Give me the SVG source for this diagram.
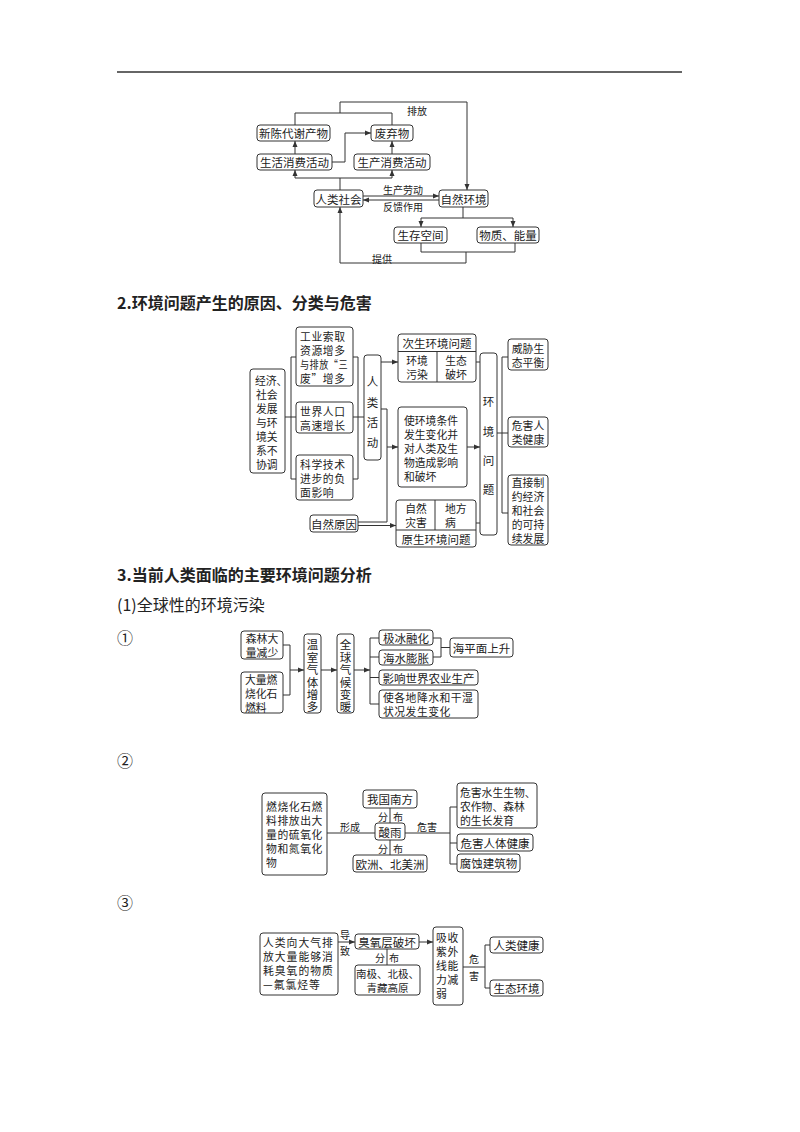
<svg xmlns="http://www.w3.org/2000/svg" width="800" height="1132" viewBox="0 0 800 1132">
<style>
.bx{fill:#fff;stroke:#333;stroke-width:1}
.ln{fill:none;stroke:#333;stroke-width:1}
.ar{marker-end:url(#ah)}
text{font-family:"Noto Sans CJK SC","Noto Sans",sans-serif;fill:#222;dominant-baseline:central}
.t{font-size:11.5px;text-anchor:middle}
.s{font-size:11.5px;text-anchor:start}
.m{font-size:10.8px}
.v{font-size:11.5px;text-anchor:start;writing-mode:vertical-rl}
.l{font-size:10px;text-anchor:middle}
.h{font-size:16px;font-weight:bold;dominant-baseline:auto}
.p{font-size:16px;dominant-baseline:auto}
</style>
<defs>
<marker id="ah" markerUnits="userSpaceOnUse" markerWidth="6" markerHeight="6" refX="6" refY="3" orient="auto">
<path d="M0,0.5 L6,3 L0,5.5 z" fill="#333"/>
</marker>
</defs>
<rect width="800" height="1132" fill="#fff"/>
<path d="M117,72 H682" stroke="#333" stroke-width="1.6"/>

<!-- Section 1 diagram -->
<g id="connectors1">
<path class="ln" d="M295,125 V113 H392 V125"/>
<path class="ln ar" d="M340,113 V102 H467 V190"/>
<path class="ln ar" d="M295,154 V141"/>
<path class="ln ar" d="M332,162 H345 V133 H371"/>
<path class="ln ar" d="M392,154 V141"/>
<path class="ln" d="M340,190 V178 M295,178 H392"/>
<path class="ln ar" d="M295,178 V170"/>
<path class="ln ar" d="M392,178 V170"/>
<path class="ln ar" d="M363,196 H439"/>
<path class="ln ar" d="M439,200 H363"/>
<path class="ln" d="M463,207 V218 M421,218 H513"/>
<path class="ln ar" d="M421,218 V227"/>
<path class="ln ar" d="M513,218 V227"/>
<path class="ln" d="M421,243 V252 H515 V243"/>
<path class="ln ar" d="M466,252 V263 H340 V207"/>
<text class="l" x="417" y="110">排放</text>
<text class="l" x="403" y="189">生产劳动</text>
<text class="l" x="403" y="206.5">反馈作用</text>
<text class="l" x="382" y="258">提供</text>
</g>
<g id="n1"><rect class="bx" x="257" y="125" width="73" height="16" rx="3"/><text class="t" x="293.5" y="133">新陈代谢产物</text></g>
<g id="n2"><rect class="bx" x="371" y="125" width="42" height="16" rx="3"/><text class="t" x="392" y="133">废弃物</text></g>
<g id="n3"><rect class="bx" x="257" y="154" width="75" height="16" rx="3"/><text class="t" x="294.5" y="162">生活消费活动</text></g>
<g id="n4"><rect class="bx" x="354" y="154" width="76" height="16" rx="3"/><text class="t" x="392" y="162">生产消费活动</text></g>
<g id="n5"><rect class="bx" x="314" y="190" width="49" height="17" rx="3"/><text class="t" x="338.5" y="198.5">人类社会</text></g>
<g id="n6"><rect class="bx" x="439" y="190" width="49" height="17" rx="3"/><text class="t" x="463.5" y="198.5">自然环境</text></g>
<g id="n7"><rect class="bx" x="394" y="227" width="53" height="16" rx="3"/><text class="t" x="420.5" y="235">生存空间</text></g>
<g id="n8"><rect class="bx" x="477" y="227" width="62" height="16" rx="3"/><text class="t" x="508" y="235">物质、能量</text></g>

<text class="h" x="117" y="309">2.环境问题产生的原因、分类与危害</text>

<!-- Section 2 diagram -->
<g id="connectors2">
<path class="ln" d="M285,417 H296 M291,357 V479 M291,357 H296 M291,479 H296"/>
<path class="ln" d="M353,357 H358 M353,479 H358 M358,357 V479 M353,417 H364"/>
<path class="ln ar" d="M381,362 H398"/>
<path class="ln" d="M381,409 H387 V522"/>
<path class="ln ar" d="M387,447 H398"/>
<path class="ln" d="M358,522 H387"/>
<path class="ln ar" d="M358,525.5 H396"/>
<path class="ln" d="M476,362 H480"/>
<path class="ln ar" d="M467,447 H480"/>
<path class="ln" d="M476,523 H480"/>
<path class="ln" d="M497,433 H502 M502,357 V513 M502,357 H508 M502,433 H508 M502,513 H508"/>
</g>
<g id="a1"><rect class="bx" x="250" y="369" width="35" height="104" rx="3"/>
<text class="s m"><tspan x="255" y="379.5">经济、</tspan><tspan x="256" y="393.5">社会</tspan><tspan x="256" y="407.5">发展</tspan><tspan x="256" y="421.5">与环</tspan><tspan x="256" y="435.5">境关</tspan><tspan x="256" y="449.5">系不</tspan><tspan x="256" y="463.5">协调</tspan></text></g>
<g id="a2"><rect class="bx" x="296" y="327" width="57" height="59" rx="3"/>
<text class="s m" style="letter-spacing:0.6px"><tspan x="300" y="335.5">工业索取</tspan><tspan x="300" y="349.5">资源增多</tspan><tspan x="300" y="363.5" textLength="48" lengthAdjust="spacingAndGlyphs">与排放“三</tspan><tspan x="300" y="377.5">废”增多</tspan></text></g>
<g id="a3"><rect class="bx" x="296" y="402" width="57" height="31" rx="3"/>
<text class="s m" style="letter-spacing:0.6px"><tspan x="300" y="410.5">世界人口</tspan><tspan x="300" y="424.5">高速增长</tspan></text></g>
<g id="a4"><rect class="bx" x="296" y="455" width="57" height="45" rx="3"/>
<text class="s m" style="letter-spacing:0.6px"><tspan x="300" y="464">科学技术</tspan><tspan x="300" y="478">进步的负</tspan><tspan x="300" y="492">面影响</tspan></text></g>
<g id="a5"><rect class="bx" x="364" y="355" width="17" height="105" rx="3"/>
<text class="v" x="372.5" y="376.25" style="letter-spacing:8.8px">人类活动</text></g>
<g id="a6"><rect class="bx" x="310" y="515" width="48" height="17" rx="3"/><text class="t" x="334" y="523.5">自然原因</text></g>
<g id="a7"><rect class="bx" x="398" y="334" width="78" height="48" rx="3"/>
<path class="ln" d="M398,351.5 H476 M437,351.5 V382"/>
<text class="t" x="437" y="343">次生环境问题</text>
<text class="t m"><tspan x="417" y="360">环境</tspan><tspan x="417" y="374">污染</tspan></text>
<text class="t m"><tspan x="456" y="360">生态</tspan><tspan x="456" y="374">破坏</tspan></text></g>
<g id="a8"><rect class="bx" x="398" y="407" width="69" height="80" rx="3"/>
<text class="s m"><tspan x="404" y="420">使环境条件</tspan><tspan x="404" y="434">发生变化并</tspan><tspan x="404" y="448">对人类及生</tspan><tspan x="404" y="462">物造成影响</tspan><tspan x="404" y="476">和破坏</tspan></text></g>
<g id="a9"><rect class="bx" x="396" y="500" width="80" height="47" rx="3"/>
<path class="ln" d="M396,530 H476 M435,500 V530"/>
<text class="t m"><tspan x="416" y="508">自然</tspan><tspan x="416" y="522">灾害</tspan></text>
<text class="s m"><tspan x="445" y="508">地方</tspan><tspan x="445" y="522">病</tspan></text>
<text class="t" x="436" y="539">原生环境问题</text></g>
<g id="a10"><rect class="bx" x="480" y="353" width="17" height="182" rx="3"/>
<text class="v" x="488.5" y="396.25" style="letter-spacing:17.8px">环境问题</text></g>
<g id="a11"><rect class="bx" x="508" y="339" width="40" height="31" rx="3"/>
<text class="t m"><tspan x="528" y="348">威胁生</tspan><tspan x="528" y="362">态平衡</tspan></text></g>
<g id="a12"><rect class="bx" x="508" y="417" width="40" height="30" rx="3"/>
<text class="t m"><tspan x="528" y="425">危害人</tspan><tspan x="528" y="439">类健康</tspan></text></g>
<g id="a13"><rect class="bx" x="508" y="475" width="40" height="70" rx="3"/>
<text class="t m"><tspan x="528" y="482">直接制</tspan><tspan x="528" y="496">约经济</tspan><tspan x="528" y="510">和社会</tspan><tspan x="528" y="524">的可持</tspan><tspan x="528" y="538">续发展</tspan></text></g>

<text class="h" x="117" y="581">3.当前人类面临的主要环境问题分析</text>
<text class="p" x="117" y="611">(1)全球性的环境污染</text>
<text class="p" x="117" y="644">①</text>

<!-- Section 3 ① -->
<g id="connectors3">
<path class="ln" d="M283,645 H290 M283,695 H290 M290,645 V695"/>
<path class="ln ar" d="M290,670 H304"/>
<path class="ln ar" d="M321,670 H337"/>
<path class="ln ar" d="M354,670 H370"/>
<path class="ln" d="M370,638 V704 M370,638 H379 M370,657 H379 M370,677.5 H379 M370,704 H379"/>
<path class="ln" d="M433,638 H441 M433,657 H441 M441,638 V657 M441,647.5 H450"/>
</g>
<g id="b1"><rect class="bx" x="241" y="631" width="42" height="28" rx="3"/>
<text class="t m"><tspan x="262" y="638">森林大</tspan><tspan x="262" y="652">量减少</tspan></text></g>
<g id="b2"><rect class="bx" x="241" y="672" width="42" height="41" rx="3"/>
<text class="s m"><tspan x="245" y="679">大量燃</tspan><tspan x="245" y="693">烧化石</tspan><tspan x="245" y="707">燃料</tspan></text></g>
<g id="b3"><rect class="bx" x="304" y="634" width="17" height="79" rx="3"/>
<text class="v" x="312.5" y="639.25" style="letter-spacing:0.9px">温室气体增多</text></g>
<g id="b4"><rect class="bx" x="337" y="634" width="17" height="79" rx="3"/>
<text class="v" x="345.5" y="639.25" style="letter-spacing:0.9px">全球气候变暖</text></g>
<g id="b5"><rect class="bx" x="379" y="630" width="54" height="15" rx="3"/><text class="t" x="406" y="637.5">极冰融化</text></g>
<g id="b6"><rect class="bx" x="379" y="650" width="54" height="15" rx="3"/><text class="t" x="406" y="657.5">海水膨胀</text></g>
<g id="b7"><rect class="bx" x="379" y="670" width="99" height="15" rx="3"/><text class="t" x="428.5" y="677.5">影响世界农业生产</text></g>
<g id="b8"><rect class="bx" x="379" y="690" width="99" height="28" rx="3"/>
<text class="s m" style="letter-spacing:0.5px"><tspan x="383" y="697">使各地降水和干湿</tspan><tspan x="383" y="711">状况发生变化</tspan></text></g>
<g id="b9"><rect class="bx" x="450" y="638" width="63" height="19" rx="3"/><text class="t" x="481.5" y="647.5">海平面上升</text></g>

<text class="p" x="117" y="767">②</text>

<!-- Section 3 ② -->
<g id="connectors4">
<path class="ln" d="M327,833 H375 M390,808 V823 M390,840 V855 M405,833 H450 M450,807 V864 M450,807 H457 M450,843 H457 M450,864 H457"/>
<text class="l" x="350" y="826">形成</text>
<text class="l" x="427" y="826">危害</text>
<text class="l" x="383" y="816">分</text><text class="l" x="398" y="816">布</text>
<text class="l" x="383" y="848">分</text><text class="l" x="398" y="848">布</text>
</g>
<g id="c1"><rect class="bx" x="262" y="793" width="65" height="82" rx="3"/>
<text class="s m" style="letter-spacing:0.6px"><tspan x="266" y="806">燃烧化石燃</tspan><tspan x="266" y="820">料排放出大</tspan><tspan x="266" y="834">量的硫氧化</tspan><tspan x="266" y="848">物和氮氧化</tspan><tspan x="266" y="862">物</tspan></text></g>
<g id="c2"><rect class="bx" x="363" y="790" width="54" height="18" rx="3"/><text class="t" x="390" y="799">我国南方</text></g>
<g id="c3"><rect class="bx" x="375" y="823" width="30" height="17" rx="3"/><text class="t" x="390" y="831.5">酸雨</text></g>
<g id="c4"><rect class="bx" x="353" y="855" width="74" height="17" rx="3"/><text class="t" x="390" y="863.5">欧洲、北美洲</text></g>
<g id="c5"><rect class="bx" x="457" y="783" width="80" height="45" rx="3"/>
<text class="s m"><tspan x="460" y="791.5">危害水生生物、</tspan><tspan x="460" y="805.5">农作物、森林</tspan><tspan x="460" y="819.5">的生长发育</tspan></text></g>
<g id="c6"><rect class="bx" x="457" y="834" width="76" height="17" rx="3"/><text class="t" x="495" y="842.5">危害人体健康</text></g>
<g id="c7"><rect class="bx" x="457" y="854" width="63" height="18" rx="3"/><text class="t" x="488.5" y="863">腐蚀建筑物</text></g>

<text class="p" x="117" y="909">③</text>

<!-- Section 3 ③ -->
<g id="connectors5">
<path class="ln ar" d="M338,942 H355"/>
<path class="ln ar" d="M419,942 H433"/>
<path class="ln" d="M387,949 V965 M463,967 H485 M485,945 V988 M485,945 H490 M485,988 H490"/>
<text class="l" x="345" y="934">导</text><text class="l" x="345" y="950">致</text>
<text class="l" x="380" y="957">分</text><text class="l" x="394" y="957">布</text>
<text class="l" x="474" y="958">危</text><text class="l" x="474" y="975">害</text>
</g>
<g id="d1"><rect class="bx" x="260" y="933" width="78" height="62" rx="3"/>
<text class="s m" style="letter-spacing:1px"><tspan x="263" y="942">人类向大气排</tspan><tspan x="263" y="956">放大量能够消</tspan><tspan x="263" y="970">耗臭氧的物质</tspan><tspan x="263" y="984">—氟氯烃等</tspan></text></g>
<g id="d2"><rect class="bx" x="355" y="934" width="64" height="15" rx="3"/><text class="t" x="387" y="941.5">臭氧层破坏</text></g>
<g id="d3"><rect class="bx" x="355" y="965" width="65" height="30" rx="3"/>
<text class="t" style="font-size:10.5px"><tspan x="387.5" y="973">南极、北极、</tspan><tspan x="387.5" y="987">青藏高原</tspan></text></g>
<g id="d4"><rect class="bx" x="433" y="927" width="30" height="78" rx="3"/>
<text class="s m" style="letter-spacing:0.6px"><tspan x="436" y="937">吸收</tspan><tspan x="436" y="951">紫外</tspan><tspan x="436" y="965">线能</tspan><tspan x="436" y="979">力减</tspan><tspan x="436" y="993">弱</tspan></text></g>
<g id="d5"><rect class="bx" x="490" y="937" width="53" height="16" rx="3"/><text class="t" x="516.5" y="945">人类健康</text></g>
<g id="d6"><rect class="bx" x="490" y="980" width="53" height="16" rx="3"/><text class="t" x="516.5" y="988">生态环境</text></g>
</svg>
